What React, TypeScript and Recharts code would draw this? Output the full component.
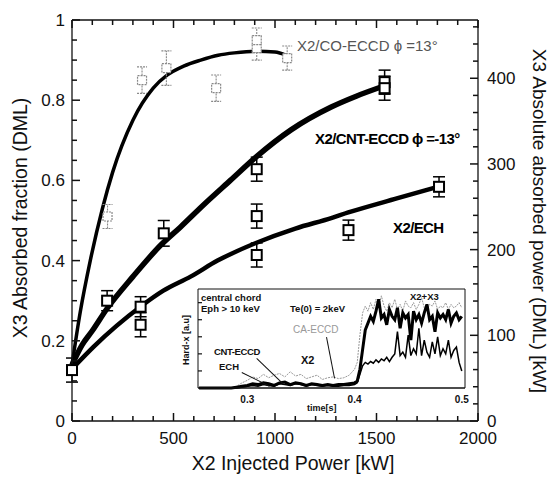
import React from 'react';
import { ComposedChart, Line, Scatter, ErrorBar, XAxis, YAxis } from 'recharts';

// fitted curves (x = X2 injected power kW, y = absorbed fraction)
const coCurveX = [0, 40, 90, 150, 200, 300, 400, 470, 550, 634, 720, 800, 911, 1000, 1055];
const coCurveY = [0.14, 0.27, 0.4, 0.53, 0.62, 0.75, 0.83, 0.863, 0.885, 0.9, 0.912, 0.918, 0.922, 0.92, 0.912];
const cntCurveX = [0, 50, 100, 172, 300, 440, 535, 650, 780, 906, 1079, 1277, 1400, 1540];
const cntCurveY = [0.14, 0.19, 0.225, 0.28, 0.36, 0.44, 0.484, 0.54, 0.6, 0.658, 0.726, 0.783, 0.81, 0.836];
const echCurveX = [0, 106, 337, 450, 584, 717, 906, 1100, 1277, 1361, 1600, 1810];
const echCurveY = [0.13, 0.185, 0.285, 0.325, 0.36, 0.4, 0.444, 0.48, 0.506, 0.52, 0.555, 0.585];

// measured points with error bars
const coPtsX = [175, 345, 465, 710, 910, 910, 1060];
const coPtsY = [0.51, 0.85, 0.88, 0.83, 0.93, 0.95, 0.905];
const coPtsErr = [0.03, 0.033, 0.043, 0.033, 0.03, 0.03, 0.03];
const cntPtsX = [0, 173, 452, 910, 1540, 1540];
const cntPtsY = [0.127, 0.3, 0.468, 0.628, 0.845, 0.83];
const cntPtsErr = [0.03, 0.025, 0.032, 0.03, 0.03, 0.03];
const echPtsX = [338, 338, 910, 910, 1362, 1808];
const echPtsY = [0.285, 0.24, 0.511, 0.414, 0.476, 0.584];
const echPtsErr = [0.025, 0.03, 0.03, 0.03, 0.025, 0.025];

const xDomain = [0, 2000];
const yDomain = [0, 1];
const rDomain = [0, 468];
const xTicks = [0, 100, 200, 300, 400, 500, 600, 700, 800, 900, 1000, 1100, 1200, 1300, 1400, 1500, 1600, 1700, 1800, 1900, 2000];
const yTicks = [0, 0.05, 0.1, 0.15, 0.2, 0.25, 0.3, 0.35, 0.4, 0.45, 0.5, 0.55, 0.6, 0.65, 0.7, 0.75, 0.8, 0.85, 0.9, 0.95, 1];
const rTicks = [0, 20, 40, 60, 80, 100, 120, 140, 160, 180, 200, 220, 240, 260, 280, 300, 320, 340, 360, 380, 400, 420, 440, 460];

// inset: hard-x signal vs time
const insetTime = [
  0.255, 0.26, 0.265, 0.27, 0.275, 0.28, 0.285, 0.29, 0.295, 0.3,
  0.305, 0.31, 0.315, 0.32, 0.325, 0.33, 0.335, 0.34, 0.345, 0.35,
  0.355, 0.36, 0.365, 0.37, 0.375, 0.38, 0.385, 0.39, 0.395, 0.4,
  0.4025, 0.405, 0.4075, 0.41, 0.4125, 0.415, 0.4175, 0.42, 0.4225, 0.425,
  0.4275, 0.43, 0.4325, 0.435, 0.4375, 0.44, 0.4425, 0.445, 0.4475, 0.45,
  0.4525, 0.455, 0.4575, 0.46, 0.4625, 0.465, 0.4675, 0.47, 0.4725, 0.475,
  0.4775, 0.48, 0.4825, 0.485, 0.4875, 0.49, 0.4925, 0.495, 0.4975, 0.5,
];
const insetCnt = [
  0, 0, 0, 0, 0, 0, 0, 1, 2, 3, 5, 4, 6, 5, 3, 6, 7, 4, 6, 5, 3, 5, 4, 3, 4, 3, 4, 4, 5, 6,
  8, 22, 45, 68, 76, 84, 78, 90, 104, 82, 86, 74, 92, 84, 80, 94, 70, 88, 82, 86,
  56, 90, 80, 86, 76, 88, 98, 80, 84, 66, 88, 82, 86, 80, 92, 76, 84, 88, 80, 84,
];
const insetEch = [
  0, 0, 0, 0, 0, 0, 0, 0, 1, 2, 3, 2, 4, 3, 2, 5, 4, 3, 5, 4, 2, 4, 3, 2, 3, 2, 2, 3, 3, 4,
  6, 16, 26, 30, 28, 31, 29, 33, 30, 34, 32, 36, 31, 36, 40, 66, 38, 42, 36, 62,
  38, 46, 40, 70, 38, 56, 42, 36, 54, 40, 60, 38, 46, 40, 56, 36, 44, 48, 30, 20,
];
const insetCa = [
  0, 0, 0, 0, 0, 0, 0, 2, 6, 9, 13, 11, 16, 12, 15, 17, 13, 19, 14, 16, 11, 13, 15, 10, 12, 13, 11, 12, 15, 22,
  30, 62, 88, 96, 90, 100, 92, 104, 94, 108, 96, 90, 100, 94, 104, 92, 98, 90, 102, 96,
  94, 100, 92, 98, 106, 94, 90, 98, 96, 102, 92, 96, 94, 100, 92, 98, 94, 96, 100, 94,
];
const insetTDomain = [0.254, 0.503];
const insetVDomain = [0, 116];
const insetTicks = [0.3, 0.4, 0.5];
const insetYTicks = [20, 40, 60, 80, 100];

const FONT = '"Liberation Sans", Arial, sans-serif';
const INK = '#111';

const pts = (xs: number[], ys: number[], es?: number[]) =>
  xs.map((x, i) => ({ x, y: ys[i], e: es ? es[i] : 0 }));

// frame tick marks, drawn as scatter marks sitting on the frame edges (inward)
const bottomTickPts = xTicks.map((x) => ({ x, y: yDomain[0], major: x % 500 === 0 }));
const topTickPts = xTicks.map((x) => ({ x, y: yDomain[1], major: x % 500 === 0 }));
const leftTickPts = yTicks.map((y) => ({ x: xDomain[0], y, major: Math.abs(y * 5 - Math.round(y * 5)) < 1e-6 }));
const rightTickPts = rTicks.map((y) => ({ x: xDomain[1], y, major: y % 100 === 0 }));
const topEdge = [{ x: xDomain[0], y: yDomain[1] }, { x: xDomain[1], y: yDomain[1] }];

const tickMark = (dx: number, dy: number) => (p: any) => {
  const len = p.payload && p.payload.major ? 8 : 5;
  return <line x1={p.cx} y1={p.cy} x2={p.cx + dx * len} y2={p.cy + dy * len} stroke={INK} strokeWidth={1.5} />;
};

// axis labels only (tickSize/tickMargin 0 => x/y is the axis line)
const BottomTick = ({ x, y, payload }: any) => {
  const v = payload.value;
  if (v % 500 !== 0) return <g />;
  return <text x={x} y={y + 23} textAnchor="middle" fontSize={17} fontFamily={FONT} fill={INK}>{v}</text>;
};
const LeftTick = ({ x, y, payload }: any) => {
  const v = payload.value;
  if (Math.abs(v * 5 - Math.round(v * 5)) > 1e-6) return <g />;
  const lab = v === 0 ? '0' : v === 1 ? '1' : v.toFixed(1);
  return <text x={x - 7} y={y + 6} textAnchor="end" fontSize={17} fontFamily={FONT} fill={INK}>{lab}</text>;
};
const RightTick = ({ x, y, payload }: any) => {
  const v = payload.value;
  if (v % 100 !== 0) return <g />;
  return <text x={x + 9} y={y + 6} textAnchor="start" fontSize={17} fontFamily={FONT} fill={INK}>{v}</text>;
};
const NoLabel = () => <g />;

const InsetXTick = ({ x, y, payload }: any) => (
  <text x={x} y={y + 15} textAnchor="middle" fontSize={10} fontWeight="bold" fontFamily={FONT} fill={INK}>
    {payload.value.toFixed(1)}
  </text>
);

const boldSquare = (p: any) => (
  <rect x={p.cx - 5} y={p.cy - 5} width={10} height={10} fill="#fff" stroke="#000" strokeWidth={2} />
);
const lightSquare = (p: any) => (
  <rect x={p.cx - 4.5} y={p.cy - 4.5} width={9} height={9} fill="#fff" stroke="#888" strokeWidth={1.2} strokeDasharray="2 1" />
);
const insetTickMark = (p: any) => <line x1={p.cx} y1={p.cy} x2={p.cx + 4} y2={p.cy} stroke={INK} strokeWidth={1.2} />;

type TProps = {
  x: number; y: number; size: number; children: React.ReactNode;
  anchor?: 'start' | 'middle'; rotate?: number; bold?: boolean; color?: string; spacing?: number;
};
const T = ({ x, y, size, children, anchor = 'start', rotate = 0, bold, color = INK, spacing = 0 }: TProps) => (
  <div
    style={{
      position: 'absolute', left: x, top: y, fontFamily: FONT, fontSize: size, lineHeight: `${size}px`,
      fontWeight: bold ? 700 : 400, color, letterSpacing: spacing, whiteSpace: 'nowrap', pointerEvents: 'none',
      transform: `translate(${anchor === 'middle' ? '-50%' : '0'}, -50%) rotate(${rotate}deg)`,
    }}
  >
    {children}
  </div>
);

const Pointer = ({ x1, y1, x2, y2 }: { x1: number; y1: number; x2: number; y2: number }) => {
  const len = Math.hypot(x2 - x1, y2 - y1);
  const ang = (Math.atan2(y2 - y1, x2 - x1) * 180) / Math.PI;
  return (
    <div style={{
      position: 'absolute', left: x1, top: y1, width: len, height: 1, background: INK,
      transformOrigin: '0 0', transform: `rotate(${ang}deg)`,
    }} />
  );
};

export default function App() {
  const insetData = insetTime.map((t, i) => ({ t, cnt: insetCnt[i], ech: insetEch[i], ca: insetCa[i] }));
  const insetTop = [{ t: insetTDomain[0], v: insetVDomain[1] }, { t: insetTDomain[1], v: insetVDomain[1] }];
  const insetRight = [{ t: insetTDomain[1], v: insetVDomain[0] }, { t: insetTDomain[1], v: insetVDomain[1] }];
  const insetTickPts = insetYTicks.map((v) => ({ t: insetTDomain[0], v }));
  const frame = { stroke: INK, strokeWidth: 1.3 };

  return (
    <div style={{ position: 'absolute', left: 0, top: 0, width: 552, height: 484, background: '#fff' }}>
      <ComposedChart width={552} height={484} margin={{ top: 20, right: 0, bottom: 0, left: 0 }}>
        <XAxis xAxisId="b" dataKey="x" type="number" domain={xDomain} ticks={xTicks} interval={0}
          height={63} tick={BottomTick} tickLine={false} tickSize={0} tickMargin={0} axisLine={frame} />
        <YAxis yAxisId="l" type="number" domain={yDomain} ticks={yTicks} interval={0}
          width={72} tick={LeftTick} tickLine={false} tickSize={0} tickMargin={0} axisLine={frame} />
        <YAxis yAxisId="r" orientation="right" type="number" domain={rDomain} ticks={rTicks} interval={0}
          width={74} tick={RightTick} tickLine={false} tickSize={0} tickMargin={0} axisLine={frame} />

        {/* top edge of the frame and inward tick marks */}
        <Line xAxisId="b" yAxisId="l" data={topEdge} dataKey="y" type="linear" stroke={INK} strokeWidth={1.3}
          dot={false} activeDot={false} isAnimationActive={false} />
        <Scatter xAxisId="b" yAxisId="l" data={bottomTickPts} dataKey="y" shape={tickMark(0, -1)} isAnimationActive={false} />
        <Scatter xAxisId="b" yAxisId="l" data={topTickPts} dataKey="y" shape={tickMark(0, 1)} isAnimationActive={false} />
        <Scatter xAxisId="b" yAxisId="l" data={leftTickPts} dataKey="y" shape={tickMark(1, 0)} isAnimationActive={false} />
        <Scatter xAxisId="b" yAxisId="r" data={rightTickPts} dataKey="y" shape={tickMark(-1, 0)} isAnimationActive={false} />

        <Line xAxisId="b" yAxisId="l" data={pts(coCurveX, coCurveY)} dataKey="y" type="monotone"
          stroke="#000" strokeWidth={3.5} dot={false} isAnimationActive={false} />
        <Line xAxisId="b" yAxisId="l" data={pts(cntCurveX, cntCurveY)} dataKey="y" type="monotone"
          stroke="#000" strokeWidth={5.5} dot={false} isAnimationActive={false} />
        <Line xAxisId="b" yAxisId="l" data={pts(echCurveX, echCurveY)} dataKey="y" type="monotone"
          stroke="#000" strokeWidth={4.5} dot={false} isAnimationActive={false} />

        <Scatter xAxisId="b" yAxisId="l" data={pts(coPtsX, coPtsY, coPtsErr)} dataKey="y" shape={lightSquare} isAnimationActive={false}>
          <ErrorBar dataKey="e" direction="y" width={5} stroke="#888" strokeWidth={1.1} strokeDasharray="2 1" />
        </Scatter>
        <Scatter xAxisId="b" yAxisId="l" data={pts(cntPtsX, cntPtsY, cntPtsErr)} dataKey="y" shape={boldSquare} isAnimationActive={false}>
          <ErrorBar dataKey="e" direction="y" width={6} stroke="#000" strokeWidth={1.5} />
        </Scatter>
        <Scatter xAxisId="b" yAxisId="l" data={pts(echPtsX, echPtsY, echPtsErr)} dataKey="y" shape={boldSquare} isAnimationActive={false}>
          <ErrorBar dataKey="e" direction="y" width={6} stroke="#000" strokeWidth={1.5} />
        </Scatter>
      </ComposedChart>

      <div style={{ position: 'absolute', left: 170, top: 279 }}>
        <ComposedChart width={300} height={136} data={insetData} margin={{ top: 10, right: 5, bottom: 0, left: 0 }}>
          <XAxis dataKey="t" type="number" domain={insetTDomain} ticks={insetTicks} interval={0} height={27}
            tick={InsetXTick} tickLine={false} tickSize={0} tickMargin={0} axisLine={{ stroke: INK, strokeWidth: 1.3 }} />
          <YAxis type="number" domain={insetVDomain} ticks={insetYTicks} interval={0} width={28}
            tick={NoLabel} tickLine={false} tickSize={0} tickMargin={0} axisLine={{ stroke: INK }} />
          <Line data={insetTop} dataKey="v" type="linear" stroke={INK} strokeWidth={1} dot={false} activeDot={false} isAnimationActive={false} />
          <Line data={insetRight} dataKey="v" type="linear" stroke={INK} strokeWidth={1} dot={false} activeDot={false} isAnimationActive={false} />
          <Scatter data={insetTickPts} dataKey="v" shape={insetTickMark} isAnimationActive={false} />
          <Line dataKey="ca" type="linear" stroke="#999" strokeWidth={1} strokeDasharray="2 1" dot={false} isAnimationActive={false} />
          <Line dataKey="cnt" type="linear" stroke="#000" strokeWidth={3} dot={false} isAnimationActive={false} />
          <Line dataKey="ech" type="linear" stroke="#000" strokeWidth={1.5} dot={false} isAnimationActive={false} />
        </ComposedChart>
      </div>

      <T x={21} y={218} size={19.5} anchor="middle" rotate={-90}>X3 Absorbed fraction (DML)</T>
      <T x={539} y={221} size={19} anchor="middle" rotate={90}>X3 Absolute absorbed power (DML) [kW]</T>
      <T x={293} y={464} size={19.5} anchor="middle">X2 Injected Power [kW]</T>

      <T x={297} y={45} size={15} color="#555">X2/CO-ECCD ϕ =13°</T>
      <T x={315} y={138} size={15} bold spacing={-0.6} color="#000">X2/CNT-ECCD ϕ =-13°</T>
      <T x={393} y={227} size={15} bold spacing={-0.6} color="#000">X2/ECH</T>

      <T x={201} y={298} size={9.5} bold>central chord</T>
      <T x={201} y={309} size={9.5} bold>Eph &gt; 10 keV</T>
      <T x={290} y={309} size={9.5} bold>Te(0) = 2keV</T>
      <T x={410} y={297} size={9.5} bold>X2+X3</T>
      <T x={214} y={352} size={9.5} bold spacing={-0.4}>CNT-ECCD</T>
      <T x={219} y={367} size={9.5} bold>ECH</T>
      <T x={301} y={360} size={11} bold>X2</T>
      <T x={307} y={408} size={9} bold>time[s]</T>
      <T x={186} y={340} size={9} bold anchor="middle" rotate={-90}>Hard-x [a.u]</T>
      <T x={293} y={330} size={10} color="#999">CA-ECCD</T>
      <Pointer x1={257} y1={358} x2={283} y2={383} />
      <Pointer x1={242} y1={372} x2={270} y2={386} />
      <Pointer x1={327} y1={337} x2={335} y2={378} />
    </div>
  );
}
